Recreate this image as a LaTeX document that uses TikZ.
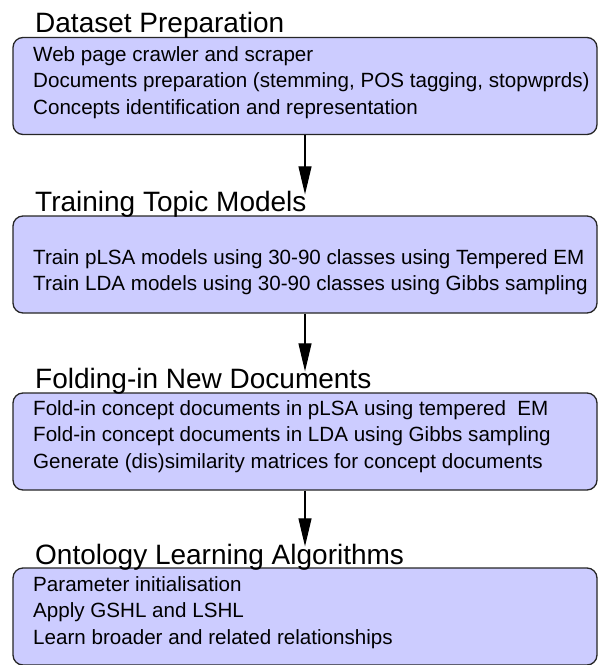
\documentclass[tikz,border=0pt]{standalone}
\usepackage{fontspec}
\setmainfont{Liberation Sans}
\usepackage{xcolor}
\usetikzlibrary{arrows.meta}
\definecolor{boxfill}{HTML}{CCCCFF}
\tikzset{
    phase/.style={draw=black!85, line width=1.3pt, fill=boxfill, rounded corners=10pt,
        minimum width=584pt, minimum height=97pt, inner sep=0pt},
    heading/.style={anchor=base west, inner sep=0pt, font=\fontsize{28}{30}\selectfont},
    items/.style={anchor=base west, align=left, inner sep=0pt, font=\fontsize{20.6}{26.5}\selectfont},
    flow/.style={-{Triangle[width=13pt,length=28pt]}, line width=1.1pt, shorten >=21pt}
}

\begin{document}
\begin{tikzpicture}[x=1pt,y=1pt]
    \useasboundingbox (0,0) rectangle (598,-665);
    \node [phase] (box1) at (305,-86) {};
    \node [phase] (box2) at (305,-264.5) {};
    \node [phase] (box3) at (305,-441.5) {};
    \node [phase] (box4) at (305,-616.5) {};
    \node [heading] (h1) at (35,-32) {Dataset Preparation};
    \node [heading] (h2) at (35,-211) {Training Topic Models};
    \node [heading] (h3) at (35,-388) {Folding-in New Documents};
    \node [heading] (h4) at (35,-564) {Ontology Learning Algorithms};
    \node [items] (t1) at (33,-114) {Web page crawler and scraper\\Documents preparation (stemming, POS tagging, stopwprds)\\Concepts identification and representation};
    \node [items] (t2) at (33,-290.5) {Train pLSA models using 30-90 classes using Tempered EM\\Train LDA models using 30-90 classes using Gibbs sampling};
    \node [items] (t3) at (33,-468) {Fold-in concept documents in pLSA using tempered\ \ EM\\Fold-in concept documents in LDA using Gibbs sampling\\Generate (dis)similarity matrices for concept documents};
    \node [items] (t4) at (33,-644) {Parameter initialisation\\Apply GSHL and LSHL\\Learn broader and related relationships};
    \draw [flow] (box1) -- (box2);
    \draw [flow] (box2) -- (box3);
    \draw [flow] (box3) -- (box4);
\end{tikzpicture}
\end{document}
